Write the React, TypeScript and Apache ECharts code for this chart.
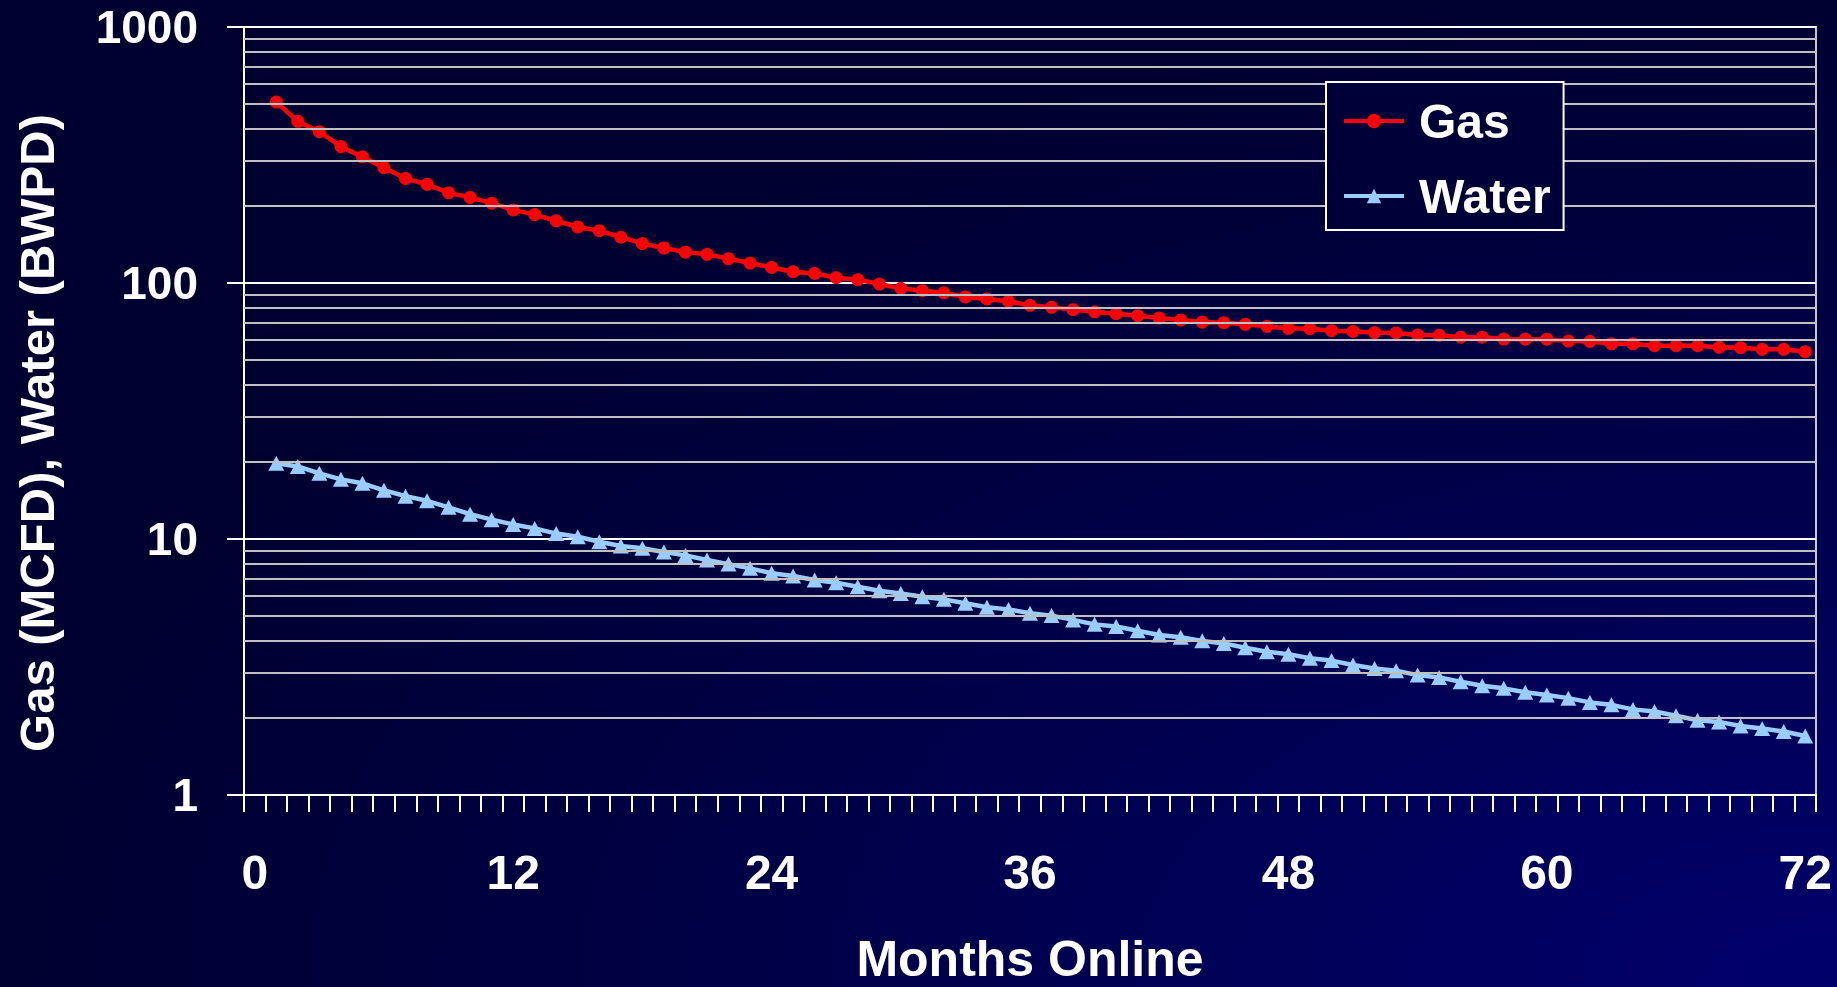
import React, { useEffect, useRef } from "react";
import * as echarts from "echarts";

const months: string[] = Array.from({ length: 73 }, (_, i) => String(i));

const gas: (number | null)[] = [
  null,
  509, 428, 390, 341, 311, 282, 256, 243, 225, 216,
  205, 193, 185, 175, 165.5, 160, 151, 142.5, 137, 132,
  129.5, 124.5, 119.7, 115, 110.7, 109, 104.9, 103, 99.1, 95.3,
  93.3, 91.6, 88.2, 86.6, 84.8, 81.8, 80.4, 78.7, 77.2, 75.9,
  74.5, 73, 71.7, 70.4, 70, 69, 67.7, 66.5, 66.3, 65.1,
  64.7, 64, 63.8, 62.6, 62.5, 61.4, 61.4, 60.4, 60.3, 60.3,
  59.3, 59.2, 57.9, 57.9, 56.9, 56.9, 56.9, 56.1, 55.9, 55.1,
  55.1, 53.9,
];

const water: (number | null)[] = [
  null,
  19.75, 19.2, 18.05, 17.1, 16.5, 15.5, 14.7, 14.1, 13.3, 12.5,
  11.9, 11.4, 11.0, 10.5, 10.2, 9.76, 9.39, 9.2, 8.9, 8.63,
  8.28, 7.98, 7.68, 7.35, 7.17, 6.92, 6.75, 6.51, 6.28, 6.13,
  5.95, 5.81, 5.61, 5.41, 5.31, 5.13, 5.02, 4.83, 4.64, 4.55,
  4.38, 4.22, 4.13, 4.0, 3.91, 3.76, 3.63, 3.55, 3.42, 3.35,
  3.22, 3.12, 3.06, 2.94, 2.88, 2.77, 2.67, 2.61, 2.52, 2.46,
  2.39, 2.3, 2.25, 2.16, 2.12, 2.04, 1.96, 1.93, 1.86, 1.82,
  1.77, 1.7,
];

const minorGrid: number[] = [
  2, 3, 4, 5, 6, 7, 8, 9,
  20, 30, 40, 50, 60, 70, 80, 90,
  200, 300, 400, 500, 600, 700, 800, 900,
];

const FONT = "'Liberation Sans', Arial, Helvetica, sans-serif";

export default function App() {
  const ref = useRef<HTMLDivElement>(null);

  useEffect(() => {
    if (!ref.current) return;
    const chart = echarts.init(ref.current, null, { renderer: "svg" });
    chart.setOption({
      animation: false,
      backgroundColor: new echarts.graphic.RadialGradient(1, 1, 1, [
        { offset: 0, color: "#00006c" },
        { offset: 0.5, color: "#00004c" },
        { offset: 1, color: "#000030" },
      ]),
      textStyle: { fontFamily: FONT },
      grid: {
        left: 244,
        right: 21,
        top: 27,
        bottom: 192,
        containLabel: false,
        outerBoundsMode: "none",
        show: true,
        borderColor: "#c8c8c8",
        borderWidth: 2,
        backgroundColor: "transparent",
      },
      legend: {
        data: ["Gas", "Water"],
        left: 1326,
        top: 82,
        z: 20,
        orient: "vertical",
        backgroundColor: "#000038",
        borderColor: "#ffffff",
        borderWidth: 2,
        padding: [15, 13, 10, 16],
        itemGap: 27,
        itemWidth: 60,
        itemHeight: 18,
        lineStyle: { width: 4 },
        textStyle: {
          color: "#ffffff",
          fontSize: 48,
          fontWeight: "bold",
          fontFamily: FONT,
          padding: [0, 0, 0, 10],
        },
      },
      xAxis: {
        type: "category",
        data: months,
        boundaryGap: true,
        axisLine: { lineStyle: { color: "#ffffff", width: 2 } },
        axisTick: {
          show: true,
          interval: 0,
          length: 17,
          lineStyle: { color: "#ffffff", width: 2 },
        },
        axisLabel: {
          interval: 11,
          color: "#ffffff",
          fontSize: 48,
          fontWeight: "bold",
          fontFamily: FONT,
          margin: 53,
        },
        splitLine: { show: false },
        name: "Months Online",
        nameLocation: "middle",
        nameGap: 139,
        nameTextStyle: {
          color: "#ffffff",
          fontSize: 50,
          lineHeight: 50,
          fontWeight: "bold",
          fontFamily: FONT,
        },
      },
      yAxis: {
        type: "log",
        logBase: 10,
        min: 1,
        max: 1000,
        axisLine: { show: true, lineStyle: { color: "#ffffff", width: 2 } },
        axisTick: {
          show: true,
          length: 17,
          lineStyle: { color: "#ffffff", width: 2 },
        },
        axisLabel: {
          color: "#ffffff",
          fontSize: 46,
          fontWeight: "bold",
          fontFamily: FONT,
          margin: 46,
          formatter: (v: number) => String(Math.round(v)),
        },
        splitLine: { show: true, lineStyle: { color: "#ffffff", width: 2 } },
        name: "Gas (MCFD), Water (BWPD)",
        nameLocation: "middle",
        nameGap: 183,
        nameTextStyle: {
          color: "#ffffff",
          fontSize: 49,
          fontWeight: "bold",
          fontFamily: FONT,
          padding: [0, 44, 0, 0],
        },
      },
      series: [
        {
          name: "minor",
          type: "line",
          data: [],
          z: 1,
          silent: true,
          markLine: {
            silent: true,
            symbol: ["none", "none"],
            label: { show: false },
            lineStyle: { color: "#c0c0c0", width: 2, type: "solid" },
            emphasis: { disabled: true },
            data: minorGrid.map((v) => ({ yAxis: v })),
          },
        },
        {
          name: "Gas",
          type: "line",
          data: gas,
          z: 3,
          symbol: "circle",
          symbolSize: 13,
          showAllSymbol: true,
          lineStyle: { color: "#ff0000", width: 4.5 },
          itemStyle: { color: "#ff0000" },
        },
        {
          name: "Water",
          type: "line",
          data: water,
          z: 3,
          symbol: "triangle",
          symbolSize: [16, 15],
          showAllSymbol: true,
          lineStyle: { color: "#99ccff", width: 4.5 },
          itemStyle: { color: "#99ccff" },
        },
      ],
    });
    return () => chart.dispose();
  }, []);

  return (
    <div
      ref={ref}
      style={{ position: "fixed", left: 0, top: 0, width: 1837, height: 987 }}
    />
  );
}
